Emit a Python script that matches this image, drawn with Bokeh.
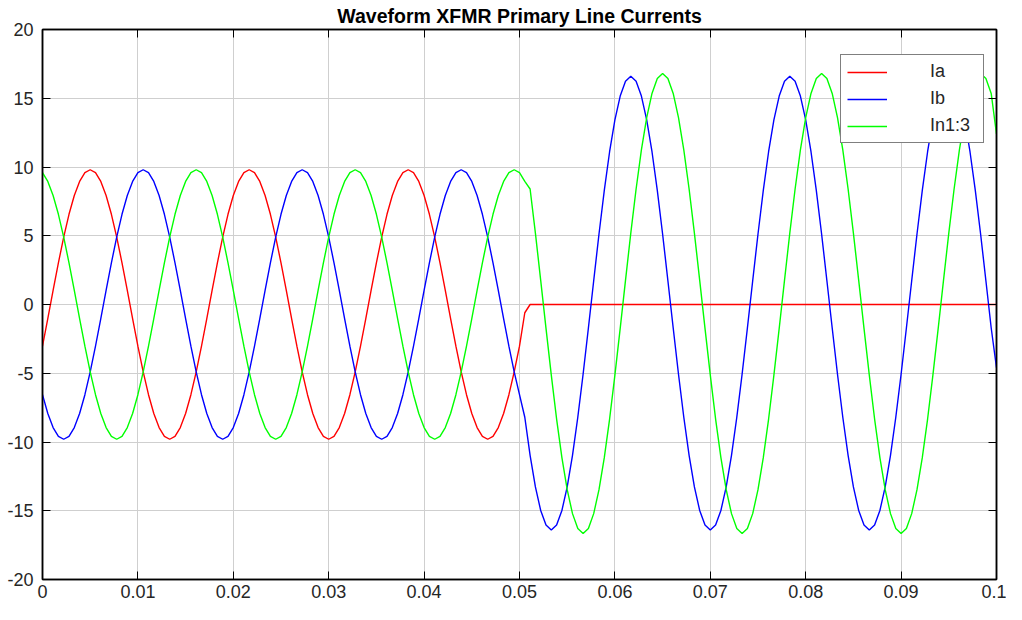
from bokeh.plotting import figure
from bokeh.models import (Legend, LegendItem, LinearAxis, FixedTicker, Range1d,
                          CustomJSTickFormatter)
from bokeh.embed import file_html
from bokeh.resources import INLINE

# ---- data (samples every 1/1800 s from 0 to 0.1 s) ----
sample_rate = 1800

ia_values = [
    -3.03, -1.02, 1.02, 3.03, 4.9, 6.56, 7.93, 8.95, 9.59, 9.8,
    9.59, 8.95, 7.93, 6.56, 4.9, 3.03, 1.02, -1.02, -3.03, -4.9,
    -6.56, -7.93, -8.95, -9.59, -9.8, -9.59, -8.95, -7.93, -6.56, -4.9,
    -3.03, -1.02, 1.02, 3.03, 4.9, 6.56, 7.93, 8.95, 9.59, 9.8,
    9.59, 8.95, 7.93, 6.56, 4.9, 3.03, 1.02, -1.02, -3.03, -4.9,
    -6.56, -7.93, -8.95, -9.59, -9.8, -9.59, -8.95, -7.93, -6.56, -4.9,
    -3.03, -1.02, 1.02, 3.03, 4.9, 6.56, 7.93, 8.95, 9.59, 9.8,
    9.59, 8.95, 7.93, 6.56, 4.9, 3.03, 1.02, -1.02, -3.03, -4.9,
    -6.56, -7.93, -8.95, -9.59, -9.8, -9.59, -8.95, -7.93, -6.56, -4.9,
    -3.03, -0.6,
    0, 0, 0, 0, 0, 0, 0, 0, 0, 0,
    0, 0, 0, 0, 0, 0, 0, 0, 0, 0,
    0, 0, 0, 0, 0, 0, 0, 0, 0, 0,
    0, 0, 0, 0, 0, 0, 0, 0, 0, 0,
    0, 0, 0, 0, 0, 0, 0, 0, 0, 0,
    0, 0, 0, 0, 0, 0, 0, 0, 0, 0,
    0, 0, 0, 0, 0, 0, 0, 0, 0, 0,
    0, 0, 0, 0, 0, 0, 0, 0, 0, 0,
    0, 0, 0, 0, 0, 0, 0, 0, 0,
]

ib_values = [
    -6.56, -7.93, -8.95, -9.59, -9.8, -9.59, -8.95, -7.93, -6.56, -4.9,
    -3.03, -1.02, 1.02, 3.03, 4.9, 6.56, 7.93, 8.95, 9.59, 9.8,
    9.59, 8.95, 7.93, 6.56, 4.9, 3.03, 1.02, -1.02, -3.03, -4.9,
    -6.56, -7.93, -8.95, -9.59, -9.8, -9.59, -8.95, -7.93, -6.56, -4.9,
    -3.03, -1.02, 1.02, 3.03, 4.9, 6.56, 7.93, 8.95, 9.59, 9.8,
    9.59, 8.95, 7.93, 6.56, 4.9, 3.03, 1.02, -1.02, -3.03, -4.9,
    -6.56, -7.93, -8.95, -9.59, -9.8, -9.59, -8.95, -7.93, -6.56, -4.9,
    -3.03, -1.02, 1.02, 3.03, 4.9, 6.56, 7.93, 8.95, 9.59, 9.8,
    9.59, 8.95, 7.93, 6.56, 4.9, 3.03, 1.02, -1.02, -3.03, -4.9,
    -6.56,
    -8.2, -10.97, -13.27, -14.98, -16.04, -16.4, -16.04, -14.98, -13.27, -10.97,
    -8.2, -5.07, -1.71, 1.73, 5.13, 8.3, 11.11, 13.43, 15.16, 16.24,
    16.6, 16.24, 15.16, 13.43, 11.11, 8.3, 5.13, 1.73, -1.71, -5.07,
    -8.2, -10.97, -13.27, -14.98, -16.04, -16.4, -16.04, -14.98, -13.27, -10.97,
    -8.2, -5.07, -1.71, 1.73, 5.13, 8.3, 11.11, 13.43, 15.16, 16.24,
    16.6, 16.24, 15.16, 13.43, 11.11, 8.3, 5.13, 1.73, -1.71, -5.07,
    -8.2, -10.97, -13.27, -14.98, -16.04, -16.4, -16.04, -14.98, -13.27, -10.97,
    -8.2, -5.07, -1.71, 1.73, 5.13, 8.3, 11.11, 13.43, 15.16, 16.24,
    16.6, 16.24, 15.16, 13.43, 11.11, 8.3, 5.13, 1.73, -1.71, -4.6,
]

in_values = [
    9.59, 8.95, 7.93, 6.56, 4.9, 3.03, 1.02, -1.02, -3.03, -4.9,
    -6.56, -7.93, -8.95, -9.59, -9.8, -9.59, -8.95, -7.93, -6.56, -4.9,
    -3.03, -1.02, 1.02, 3.03, 4.9, 6.56, 7.93, 8.95, 9.59, 9.8,
    9.59, 8.95, 7.93, 6.56, 4.9, 3.03, 1.02, -1.02, -3.03, -4.9,
    -6.56, -7.93, -8.95, -9.59, -9.8, -9.59, -8.95, -7.93, -6.56, -4.9,
    -3.03, -1.02, 1.02, 3.03, 4.9, 6.56, 7.93, 8.95, 9.59, 9.8,
    9.59, 8.95, 7.93, 6.56, 4.9, 3.03, 1.02, -1.02, -3.03, -4.9,
    -6.56, -7.93, -8.95, -9.59, -9.8, -9.59, -8.95, -7.93, -6.56, -4.9,
    -3.03, -1.02, 1.02, 3.03, 4.9, 6.56, 7.93, 8.95, 9.59, 9.8,
    9.59, 8.95,
    8.4, 5.19, 1.76, -1.74, -5.14, -8.33, -11.14, -13.47, -15.21, -16.29,
    -16.65, -16.29, -15.21, -13.47, -11.14, -8.33, -5.14, -1.74, 1.76, 5.19,
    8.4, 11.24, 13.59, 15.35, 16.43, 16.8, 16.43, 15.35, 13.59, 11.24,
    8.4, 5.19, 1.76, -1.74, -5.14, -8.33, -11.14, -13.47, -15.21, -16.29,
    -16.65, -16.29, -15.21, -13.47, -11.14, -8.33, -5.14, -1.74, 1.76, 5.19,
    8.4, 11.24, 13.59, 15.35, 16.43, 16.8, 16.43, 15.35, 13.59, 11.24,
    8.4, 5.19, 1.76, -1.74, -5.14, -8.33, -11.14, -13.47, -15.21, -16.29,
    -16.65, -16.29, -15.21, -13.47, -11.14, -8.33, -5.14, -1.74, 1.76, 5.19,
    8.4, 11.24, 13.59, 15.35, 16.43, 16.8, 16.43, 15.35, 12.4,
]

series_names = ["Ia", "Ib", "In1:3"]
series_colors = ["#ff0000", "#0000ff", "#00ff00"]
x_ticks = [0, 0.01, 0.02, 0.03, 0.04, 0.05, 0.06, 0.07, 0.08, 0.09, 0.1]
y_ticks = [-20, -15, -10, -5, 0, 5, 10, 15, 20]

assert len(ia_values) == len(ib_values) == len(in_values) == 181
t = [i / sample_rate for i in range(len(ia_values))]

FONT = "Liberation Sans"
TXT = "#262626"

p = figure(width=1006, height=604, output_backend="svg", toolbar_location=None,
           x_range=Range1d(0, 0.1), y_range=Range1d(-20, 20),
           x_axis_location=None, y_axis_location=None,
           min_border_left=42, min_border_right=10, min_border_top=29,
           min_border_bottom=25, background_fill_color="white",
           border_fill_color="white")

p.title.text = "Waveform XFMR Primary Line Currents"
p.title.align = "center"
p.title.text_font = FONT
p.title.text_font_style = "bold"
p.title.text_font_size = "19.5px"
p.title.text_color = "#000000"
p.title.standoff = 5

fmt = CustomJSTickFormatter(code="return String(Math.round(tick * 1000) / 1000);")
blank = CustomJSTickFormatter(code="return '';")

def style_axis(ax, labels):
    ax.axis_line_color = "black"
    ax.axis_line_width = 1.5
    ax.major_tick_in = 8
    ax.major_tick_out = 0
    ax.major_tick_line_color = "black"
    ax.major_tick_line_width = 1
    ax.minor_tick_line_color = None
    ax.major_label_text_font = FONT
    ax.major_label_text_font_size = "18px"
    ax.major_label_text_color = TXT
    ax.formatter = fmt if labels else blank
    ax.major_label_standoff = 8 if labels else 0

xb = LinearAxis(ticker=FixedTicker(ticks=x_ticks))
style_axis(xb, True)
xb.major_label_standoff = 5
p.add_layout(xb, "below")
yl = LinearAxis(ticker=FixedTicker(ticks=y_ticks))
style_axis(yl, True)
yl.major_label_standoff = 9
p.add_layout(yl, "left")
xt = LinearAxis(ticker=FixedTicker(ticks=x_ticks))
style_axis(xt, False)
p.add_layout(xt, "above")
yr = LinearAxis(ticker=FixedTicker(ticks=y_ticks))
style_axis(yr, False)
p.add_layout(yr, "right")

p.xgrid.ticker = FixedTicker(ticks=x_ticks)
p.ygrid.ticker = FixedTicker(ticks=y_ticks)
p.grid.grid_line_color = "#cfcfcf"
p.grid.grid_line_width = 1

p.outline_line_color = "black"
p.outline_line_width = 1.5

renderers = []
for vals, col in zip([ia_values, ib_values, in_values], series_colors):
    r = p.line(t, vals, line_color=col, line_width=1.4)
    renderers.append(r)

legend = Legend(items=[LegendItem(label=n, renderers=[r]) for n, r in zip(series_names, renderers)],
                location=(798, 436))
legend.border_line_color = "black"
legend.border_line_width = 1.5
legend.background_fill_color = "white"
legend.background_fill_alpha = 1
legend.label_text_font = FONT
legend.label_text_font_size = "18px"
legend.label_text_color = TXT
legend.glyph_width = 40
legend.glyph_height = 20
legend.label_height = 20
legend.label_width = 47
legend.label_standoff = 43
legend.spacing = 6
legend.padding = 6
p.add_layout(legend, "center")

open("out.html", "w").write(file_html(p, INLINE))
